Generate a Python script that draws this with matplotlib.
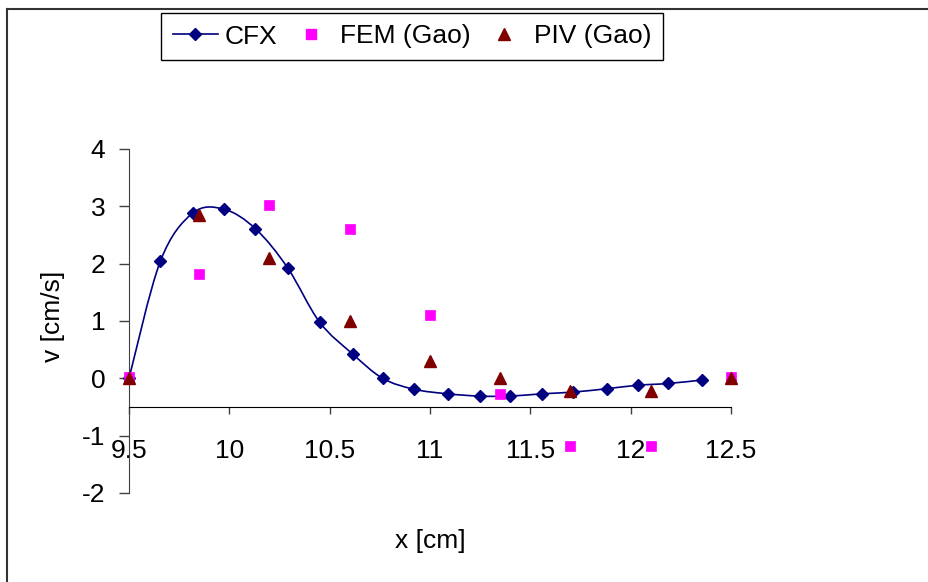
import matplotlib
matplotlib.use("Agg")
import matplotlib.pyplot as plt
from matplotlib.path import Path
from matplotlib.patches import PathPatch
from matplotlib.lines import Line2D

plt.rcParams['font.family'] = ['Liberation Sans', 'DejaVu Sans']
plt.rcParams['axes.unicode_minus'] = False

# CFX simulation (smoothed line)
cfx_x = [9.50, 9.656, 9.817, 9.973, 10.13, 10.29, 10.45, 10.616, 10.764, 10.92,
         11.088, 11.249, 11.398, 11.556, 11.714, 11.883, 12.038, 12.187, 12.355]
cfx_v = [0.0, 2.04, 2.88, 2.95, 2.61, 1.93, 0.98, 0.42, 0.0, -0.19,
         -0.27, -0.31, -0.31, -0.27, -0.24, -0.18, -0.12, -0.09, -0.03]

# Gao data
gao_x = [9.5, 9.85, 10.2, 10.6, 11.0, 11.35, 11.7, 12.1, 12.5]
fem_v = [0.02, 1.82, 3.02, 2.60, 1.10, -0.28, -1.18, -1.18, 0.02]
piv_v = [0.0, 2.85, 2.10, 1.00, 0.30, 0.0, -0.22, -0.22, 0.0]

xticks = [9.5, 10, 10.5, 11, 11.5, 12, 12.5]
yticks = [-2, -1, 0, 1, 2, 3, 4]

navy = '#000080'
magenta = '#FF00FF'
darkred = '#800000'
fs = 19

fig = plt.figure(figsize=(9.29, 5.82), dpi=100)
ax = fig.add_axes([129/929, 1 - 493/582, 602/929, 344/582])
ax.set_xlim(9.5, 12.5)
ax.set_ylim(-2, 4)


def smooth_path(xs, ys):
    # Excel-style smoothed line: cubic Bezier through each point
    pts = list(zip(xs, ys))
    n = len(pts)
    verts = [pts[0]]
    codes = [Path.MOVETO]
    for i in range(n - 1):
        p0 = pts[max(i - 1, 0)]
        p1 = pts[i]
        p2 = pts[i + 1]
        p3 = pts[min(i + 2, n - 1)]
        c1 = (p1[0] + (p2[0] - p0[0]) / 6, p1[1] + (p2[1] - p0[1]) / 6)
        c2 = (p2[0] - (p3[0] - p1[0]) / 6, p2[1] - (p3[1] - p1[1]) / 6)
        verts += [c1, c2, p2]
        codes += [Path.CURVE4] * 3
    return Path(verts, codes)


ax.add_patch(PathPatch(smooth_path(cfx_x, cfx_v), fill=False, edgecolor=navy,
                       linewidth=1.2, zorder=2))
ax.plot(cfx_x, cfx_v, linestyle='none', marker='D', markersize=6.2,
        color=navy, zorder=3, clip_on=False)
ax.plot(gao_x, fem_v, linestyle='none', marker='s', markersize=7.5,
        color=magenta, markeredgewidth=0.5, zorder=4, clip_on=False)
ax.plot(gao_x, piv_v, linestyle='none', marker='^', markersize=8,
        color=darkred, zorder=5, clip_on=False)

# axes styling like Excel
for s in ['top', 'right']:
    ax.spines[s].set_visible(False)
ax.spines['bottom'].set_position(('data', -0.5))
ax.spines['bottom'].set_color('black')
ax.spines['left'].set_color('#404040')
ax.set_xticks(xticks)
ax.set_xticklabels(['9.5', '10', '10.5', '11', '11.5', '12', '12.5'])
ax.set_yticks(yticks)
ax.tick_params(axis='x', direction='out', length=5, width=1, color='#404040',
               pad=18, labelsize=fs)
ax.tick_params(axis='y', direction='out', length=7, width=1, color='#404040',
               pad=10, labelsize=fs)

fig.text(430/929, 1 - 541/582, 'x [cm]', fontsize=fs, ha='center', va='center')
fig.text(53/929, 1 - 316/582, 'v [cm/s]', fontsize=fs, ha='center',
         va='center', rotation=90)

handles = [
    Line2D([], [], color=navy, linewidth=1.2, marker='D', markersize=6.2),
    Line2D([], [], linestyle='none', marker='s', markersize=7, color=magenta),
    Line2D([], [], linestyle='none', marker='^', markersize=8, color=darkred),
]
leg = fig.legend(handles, ['CFX', 'FEM (Gao)', 'PIV (Gao)'], ncol=3,
                 loc='center', bbox_to_anchor=(412/929, 1 - 36.5/582),
                 fontsize=fs, frameon=True, fancybox=False, framealpha=1,
                 edgecolor='black', handlelength=1.7, handletextpad=0.28,
                 columnspacing=0.4, borderpad=0.45, borderaxespad=0)
leg.get_frame().set_linewidth(1.0)

# outer chart border (only top and left edges are inside the image)
fig.add_artist(Line2D([7/929, 1.05], [1 - 8.5/582, 1 - 8.5/582],
                      transform=fig.transFigure, color='#333333', linewidth=1.5))
fig.add_artist(Line2D([7/929, 7/929], [-0.05, 1 - 8.5/582],
                      transform=fig.transFigure, color='#333333', linewidth=1.5))

fig.savefig('out.png', dpi=100)
